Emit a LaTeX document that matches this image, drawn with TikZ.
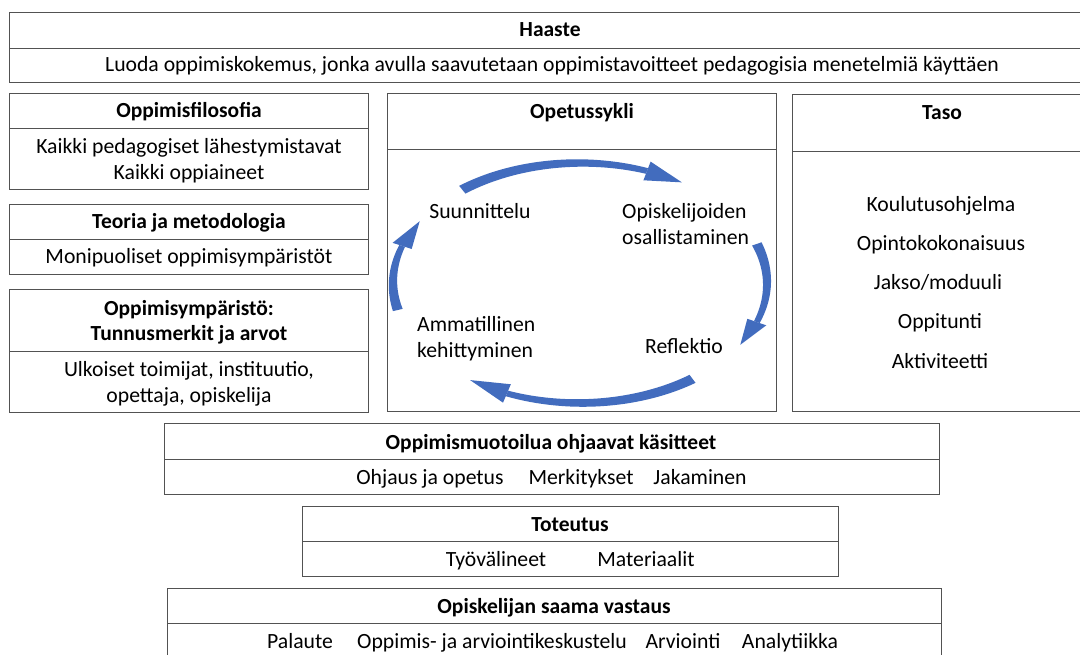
\documentclass[tikz,border=0pt]{standalone}
\usepackage{fontspec}
\setmainfont{Carlito}
\begin{document}
\begin{tikzpicture}[x=1pt,y=-1pt,
  cell/.style={draw=black!68,line width=1.3pt,rectangle,inner sep=0pt,anchor=north west},
  txt/.style={inner sep=0pt,anchor=base,font=\fontsize{21.7}{26}\selectfont,text=black},
  ttl/.style={txt,font=\fontsize{21.5}{25}\selectfont\bfseries},
  arrowfill/.style={fill={rgb,255:red,66;green,108;blue,190}}]
\clip (0,0) rectangle (1080,655);
\fill[white] (0,0) rectangle (1080,655);
\newcommand\cell[6]{\node[cell,minimum width=#4,minimum height=#5] (#1) at (#2,#3) {};}
% boxes
\cell{haH}{9}{12}{1081}{36}{}
\cell{haB}{9}{48}{1081}{34}{}
\cell{fiH}{9}{93}{359}{35}{}
\cell{fiB}{9}{128}{359}{61}{}
\cell{teH}{9}{204}{359}{35}{}
\cell{teB}{9}{239}{359}{35}{}
\cell{ymH}{9}{289}{359}{62}{}
\cell{ymB}{9}{351}{359}{61}{}
\cell{opH}{387}{93}{389}{56}{}
\cell{opB}{387}{149}{389}{262}{}
\cell{taH}{792}{94}{300}{57}{}
\cell{taB}{792}{151}{300}{260}{}
\cell{muH}{164}{423}{775}{36}{}
\cell{muB}{164}{459}{775}{35}{}
\cell{toH}{302}{506}{536}{35}{}
\cell{toB}{302}{541}{536}{35}{}
\cell{vaH}{167}{588}{774}{35}{}
\cell{vaB}{167}{623}{774}{50}{}
% texts
\node[ttl] (t1) at (550,37) {Haaste};
\node[txt] (t2) at (552,72) {Luoda oppimiskokemus, jonka avulla saavutetaan oppimistavoitteet pedagogisia menetelmiä käyttäen};
\node[ttl] (t3) at (189,118) {Oppimisfilosofia};
\node[txt,align=center] (t4) at (189,180) {Kaikki pedagogiset lähestymistavat\\Kaikki oppiaineet};
\node[ttl] (t5) at (189,229) {Teoria ja metodologia};
\node[txt] (t6) at (189,264) {Monipuoliset oppimisympäristöt};
\node[ttl,align=center] (t7) at (189,341) {Oppimisympäristö:\\Tunnusmerkit ja arvot};
\node[txt,align=center,font=\fontsize{21.7}{25}\selectfont] (t8) at (189,402) {Ulkoiset toimijat, instituutio,\\opettaja, opiskelija};
\node[ttl] (t9) at (582,119) {Opetussykli};
\node[ttl] (t10) at (942,120) {Taso};
\node[txt] (k1) at (941,212) {Koulutusohjelma};
\node[txt] (k2) at (941,251) {Opintokokonaisuus};
\node[txt] (k3) at (938,290) {Jakso/moduuli};
\node[txt] (k4) at (940,329) {Oppitunti};
\node[txt] (k5) at (940,368) {Aktiviteetti};
% cycle
\node[txt] (c1) at (480,219) {Suunnittelu};
\node[txt,align=left,anchor=base west] (c2) at (622,245) {Opiskelijoiden\\osallistaminen};
\node[txt] (c3) at (684,353) {Reflektio};
\node[txt,align=left,anchor=base west] (c4) at (417,357) {Ammatillinen\\kehittyminen};
\newcommand\cycarrow[3]{%
  \fill[arrowfill] plot[domain=#1:#2,samples=40,variable=\t]
    ({580+(187+5-2*(\t-(#1))/((#2)-(#1)))*cos(\t)},{283+(120+5-2*(\t-(#1))/((#2)-(#1)))*sin(\t)})
    -- plot[domain=#2:#1,samples=40,variable=\t]
    ({580+(187-5+2*(\t-(#1))/((#2)-(#1)))*cos(\t)},{283+(120-5+2*(\t-(#1))/((#2)-(#1)))*sin(\t)})
    -- cycle;
  \fill[arrowfill] ({580+197*cos(#2)},{283+130*sin(#2)}) -- ({580+177*cos(#2)},{283+110*sin(#2)})
    -- ({580+187*cos(#3)},{283+120*sin(#3)}) -- cycle;}
\cycarrow{231}{291}{303}
\cycarrow{-19}{19}{31}
\cycarrow{53}{113}{126}
\cycarrow{167}{198}{211}
% lower boxes
\node[ttl] (m0) at (551,449) {Oppimismuotoilua ohjaavat käsitteet};
\node[txt] (m1) at (430,484) {Ohjaus ja opetus};
\node[txt] (m2) at (581,484) {Merkitykset};
\node[txt] (m3) at (700,484) {Jakaminen};
\node[ttl] (o0) at (570,531) {Toteutus};
\node[txt] (o1) at (496,566) {Työvälineet};
\node[txt] (o2) at (646,566) {Materiaalit};
\node[ttl] (v0) at (554,613) {Opiskelijan saama vastaus};
\node[txt] (v1) at (300,648) {Palaute};
\node[txt] (v2) at (492,648) {Oppimis- ja arviointikeskustelu};
\node[txt] (v3) at (683,648) {Arviointi};
\node[txt] (v4) at (790,648) {Analytiikka};
\end{tikzpicture}
\end{document}
